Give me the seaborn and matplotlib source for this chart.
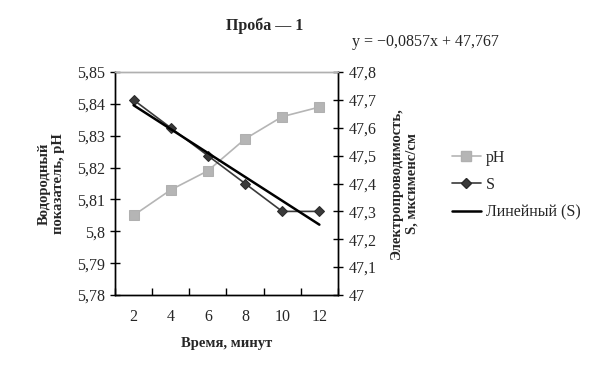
import numpy as np
import pandas as pd
import seaborn as sns
import matplotlib.pyplot as plt
from matplotlib.ticker import FuncFormatter, FixedLocator
from matplotlib.lines import Line2D

# data
minutes = [2, 4, 6, 8, 10, 12]
ph = [5.805, 5.813, 5.819, 5.829, 5.836, 5.839]
s_cond = [47.7, 47.6, 47.5, 47.4, 47.3, 47.3]

df = pd.DataFrame({"pos": range(len(minutes)), "minutes": minutes, "pH": ph, "S": s_cond})
# excel-style linear trend on point index 1..n
k, b = np.polyfit(np.arange(1, len(minutes) + 1), s_cond, 1)
df["trend"] = k * (df["pos"] + 1) + b

sns.set_style("ticks")
plt.rcParams["font.family"] = ["Liberation Serif", "DejaVu Serif"]
plt.rcParams["font.size"] = 10.5

fig = plt.figure(figsize=(5.97, 3.76), dpi=100)
ax = fig.add_axes([0.1926, 0.2154, 0.3735, 0.593])
ax2 = ax.twinx()

sns.lineplot(data=df, x="pos", y="pH", ax=ax, color="#b5b5b5", marker="s",
             markersize=7, markeredgecolor="#b0b0b0", lw=1.2, legend=False)
sns.lineplot(data=df, x="pos", y="S", ax=ax2, color="#3a3a3a", marker="D",
             markersize=5.5, markeredgecolor="#2a2a2a", lw=1.2, legend=False)
sns.lineplot(data=df, x="pos", y="trend", ax=ax2, color="black", lw=1.8, legend=False)

comma = FuncFormatter(lambda v, p: ("%g" % round(v, 3)).replace(".", ","))

ax.set_xlim(-0.5, len(minutes) - 0.5)
ax.set_ylim(5.78, 5.85)
ax.yaxis.set_major_locator(FixedLocator(np.round(np.arange(5.78, 5.8501, 0.01), 2)))
ax.yaxis.set_major_formatter(comma)
ax2.set_ylim(47, 47.8)
ax2.yaxis.set_major_locator(FixedLocator(np.round(np.arange(47, 47.801, 0.1), 1)))
ax2.yaxis.set_major_formatter(comma)

# category labels in the middle, tick marks on the borders
ax.set_xticks(np.arange(-0.5, len(minutes), 1.0))
ax.set_xticklabels([])
ax.set_xticks(df["pos"], minor=True)
ax.set_xticklabels([str(m) for m in minutes], minor=True)
ax.tick_params(axis="x", which="major", direction="in", length=5, width=1, color="black")
ax.tick_params(axis="x", which="minor", length=0, pad=10, labelsize=11.5)
ax.tick_params(axis="y", direction="inout", length=7, width=1, color="black", labelsize=11.5, pad=4)
ax2.tick_params(axis="y", direction="inout", length=7, width=1, color="black", labelsize=11.5, pad=4)

for a in (ax, ax2):
    for side in ("left", "right", "bottom"):
        a.spines[side].set_color("black")
        a.spines[side].set_linewidth(1)
    a.spines["top"].set_color("#b0b0b0")
    a.spines["top"].set_linestyle((0, (1, 1)))
    a.spines["top"].set_linewidth(1)

ax.set_xlabel("Время, минут", fontweight="bold", fontsize=10.5, labelpad=9)
ax.set_ylabel("Водородный\nпоказатель, pH", fontweight="bold", fontsize=10.5,
              labelpad=8, linespacing=1.2)
ax2.set_ylabel("Электропроводимость,\nS, мксименс/см", fontweight="bold", fontsize=10.5,
               rotation=90, labelpad=10, linespacing=1.2)

fig.text(0.444, 0.932, "Проба — 1", ha="center", va="center", fontweight="bold", fontsize=11.5)
fig.text(0.713, 0.887, "y = −%sx + %s" % (("%.4f" % -k).replace(".", ","),
                                          ("%.3f" % b).replace(".", ",")),
         ha="center", va="center", fontsize=11.5)

handles = [
    Line2D([], [], color="#b5b5b5", marker="s", markersize=7, markeredgecolor="#b0b0b0", lw=1.2),
    Line2D([], [], color="#3a3a3a", marker="D", markersize=5.5, markeredgecolor="#2a2a2a", lw=1.2),
    Line2D([], [], color="black", lw=1.8),
]
fig.legend(handles, ["pH", "S", "Линейный (S)"], loc="upper left",
           bbox_to_anchor=(0.733, 0.64), frameon=False, fontsize=11.5,
           handlelength=1.8, labelspacing=0.7, handletextpad=0.3)

fig.savefig("out.png", dpi=100)
